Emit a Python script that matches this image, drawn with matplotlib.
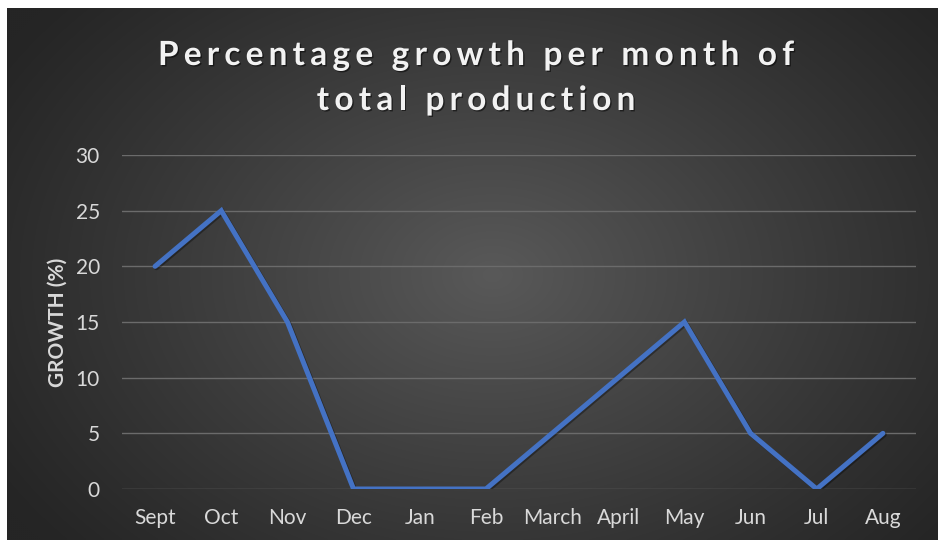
import numpy as np
import matplotlib
matplotlib.use("Agg")
import matplotlib.pyplot as plt
from matplotlib import patheffects as pe

months = ["Sept", "Oct", "Nov", "Dec", "Jan", "Feb", "March", "April", "May", "Jun", "Jul", "Aug"]
growth = [20, 25, 15, 0, 0, 0, 5, 10, 15, 5, 0, 5]
y_ticks = [0, 5, 10, 15, 20, 25, 30]
title_lines = ["Percentage growth per month of", "total production"]
y_label = "GROWTH (%)"

W, H = 938, 540
fig = plt.figure(figsize=(W / 100, H / 100), dpi=100)
fig.patch.set_facecolor("white")

# dark chart area with a soft radial glow in the middle
bg = fig.add_axes([7 / W, 0, (W - 7) / W, (H - 8) / H])
bg.set_axis_off()
ny, nx = 266, 466
yy, xx = np.mgrid[0:ny, 0:nx]
cx, cy = nx * 0.52, ny * 0.50
r = np.sqrt(((xx - cx) / (nx * 0.62)) ** 2 + ((yy - cy) / (ny * 0.78)) ** 2)
r = np.clip(r, 0, 1)
inner, outer = 0x59 / 255, 0x25 / 255
val = outer + (inner - outer) * (1 - r) ** 1.1
bg.imshow(np.dstack([val, val, val]), aspect="auto", extent=[0, 1, 0, 1],
          interpolation="bicubic")
bg.set_xlim(0, 1)
bg.set_ylim(0, 1)

ax = fig.add_axes([122 / W, 51 / H, (916 - 122) / W, (489 - 155) / H])
ax.patch.set_alpha(0)
x = np.arange(len(months))
ax.plot(x, growth, color="#4472C4", lw=3.6, solid_joinstyle="miter", solid_capstyle="round",
        zorder=3, path_effects=[pe.SimpleLineShadow(offset=(1, -1), shadow_color="black", alpha=0.35),
                                pe.Normal()])
ax.set_xlim(-0.5, len(months) - 0.5)
ax.set_ylim(0, 30)
ax.set_yticks(y_ticks)
ax.set_xticks(x)
ax.set_xticklabels(months)
ax.grid(axis="y", color="#6b6b6b", lw=1.0, zorder=0)
ax.grid(axis="x", visible=False)
for s in ax.spines.values():
    s.set_visible(False)
ax.tick_params(axis="both", length=0, colors="#d9d9d9", labelsize=15)
ax.tick_params(axis="y", pad=16)
ax.tick_params(axis="x", pad=13.5)
for lab in ax.get_xticklabels() + ax.get_yticklabels():
    lab.set_family("Lato")

renderer = fig.canvas.get_renderer()


def text_width(s, **kw):
    t = fig.text(0, 0, s, **kw)
    w = t.get_window_extent(renderer).width
    t.remove()
    return w


def tracked_text(cx_px, cy_px, s, tracking, vertical=False, **kw):
    """Draw s with extra letter spacing, centred along its run at cx_px (or cy_px if vertical).

    Coordinates are pixels from the top-left; the other coordinate is the baseline."""
    ref = text_width("l", **kw)
    offsets = [text_width(s[:i] + "l", **kw) - ref if i else 0.0 for i in range(len(s))]
    total = text_width(s, **kw) + tracking * (len(s) - 1)
    for i, ch in enumerate(s):
        if ch == " ":
            continue
        d = -total / 2 + offsets[i] + tracking * i
        if vertical:
            # rotated text reads bottom to top; baseline lies on the right at cx_px
            fig.text(cx_px / W, (H - cy_px + d) / H, ch, rotation=90,
                     ha="left", va="baseline", rotation_mode="anchor", **kw)
        else:
            fig.text((cx_px + d) / W, (H - cy_px) / H, ch, ha="left", va="baseline", **kw)


title_fx = [pe.withSimplePatchShadow(offset=(1, -1), shadow_rgbFace="black", alpha=0.5)]
title_kw = dict(color="#f2f2f2", fontsize=24, fontweight="bold", family="Lato",
                path_effects=title_fx)
tracked_text(476, 65, title_lines[0], 5.2, **title_kw)
tracked_text(476, 110, title_lines[1], 5.2, **title_kw)

fig.text(64 / W, 1 - 322 / H, y_label, rotation=90, ha="center", va="baseline",
         rotation_mode="anchor", color="#d9d9d9", fontsize=15, fontweight="bold",
         family="Lato")

fig.savefig("out.png", dpi=100, facecolor=fig.get_facecolor())
